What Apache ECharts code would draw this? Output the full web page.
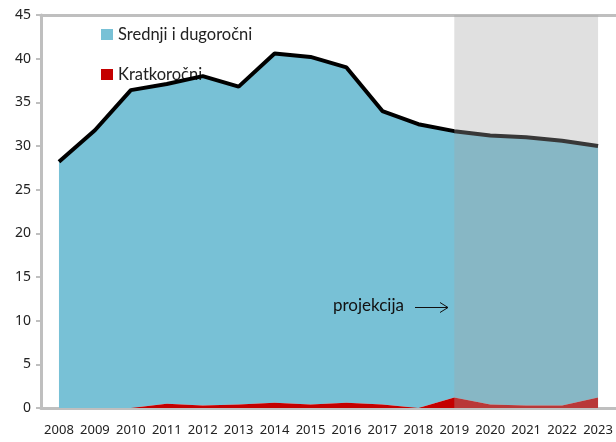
<!DOCTYPE html>
<html>
<head>
<meta charset="utf-8">
<script src="https://cdn.jsdelivr.net/npm/echarts@6/dist/echarts.min.js"></script>
<style>
  html, body { margin: 0; padding: 0; background: #fff; }
  #chart { width: 616px; height: 442px; }
</style>
</head>
<body>
<div id="chart"></div>
<script>
// godine
const years = ['2008', '2009', '2010', '2011', '2012', '2013', '2014', '2015',
  '2016', '2017', '2018', '2019', '2020', '2021', '2022', '2023'];
// srednji i dugoročni dug
const longTerm = [28.2, 31.8, 36.4, 36.6, 37.7, 36.4, 40.0, 39.8, 38.4, 33.6, 32.5, 30.5, 30.8, 30.7, 30.3, 28.8];
// kratkoročni dug
const shortTerm = [0, 0, 0, 0.5, 0.3, 0.4, 0.6, 0.4, 0.6, 0.4, 0, 1.2, 0.4, 0.3, 0.3, 1.2];
// ukupno (crna linija)
const total = [28.2, 31.8, 36.4, 37.1, 38.0, 36.8, 40.6, 40.2, 39.0, 34.0, 32.5, 31.7, 31.2, 31.0, 30.6, 30.0];
// y osi oznake
const yTicks = [0, 5, 10, 15, 20, 25, 30, 35, 40, 45];
const projStart = '2019';
const projEnd = '2023';

const chart = echarts.init(document.getElementById('chart'));
const font = 'Noto Sans';
const textFont = 'Lato';
const axisGrey = '#BFBFBF';

const option = {
  animation: false,
  textStyle: { fontFamily: font },
  grid: { left: 41, top: 15, width: 577, bottom: 34 },
  legend: {
    orient: 'vertical',
    left: 101,
    top: 26,
    padding: 0,
    itemWidth: 12,
    itemHeight: 11,
    itemGap: 23,
    icon: 'rect',
    textStyle: { fontSize: 16.5, color: '#222', fontFamily: textFont },
    data: ['Srednji i dugoročni', 'Kratkoročni']
  },
  xAxis: [{
    type: 'category',
    data: years,
    boundaryGap: true,
    axisLine: { lineStyle: { color: axisGrey, width: 3 } },
    axisTick: { alignWithLabel: true, interval: 0, length: 5, lineStyle: { color: axisGrey, width: 2 } },
    axisLabel: { interval: 0, fontSize: 13, color: '#222', margin: 16 },
    splitLine: { show: false }
  }, {
    type: 'category',
    data: years,
    position: 'top',
    axisLine: { lineStyle: { color: axisGrey, width: 3 } },
    axisTick: { show: false },
    axisLabel: { show: false }
  }],
  yAxis: {
    type: 'value',
    min: yTicks[0],
    max: yTicks[yTicks.length - 1],
    interval: 5,
    axisLine: { show: true, lineStyle: { color: axisGrey, width: 3 } },
    axisTick: { show: true, length: 5, lineStyle: { color: axisGrey, width: 2 } },
    axisLabel: { fontSize: 14, color: '#222', margin: 10 },
    splitLine: { show: false }
  },
  series: [
    {
      name: 'Kratkoročni',
      type: 'line',
      stack: 'dug',
      data: shortTerm,
      showSymbol: false,
      lineStyle: { width: 0 },
      itemStyle: { color: '#C40000' },
      areaStyle: { color: '#C40000', opacity: 1 },
      z: 3
    },
    {
      name: 'Srednji i dugoročni',
      type: 'line',
      stack: 'dug',
      data: longTerm,
      showSymbol: false,
      lineStyle: { width: 0 },
      itemStyle: { color: '#78C1D6' },
      areaStyle: { color: '#78C1D6', opacity: 1 },
      z: 2
    },
    {
      name: 'Ukupno',
      type: 'line',
      data: total,
      showSymbol: false,
      lineStyle: { color: '#000', width: 4 },
      itemStyle: { color: '#000' },
      z: 4
    },
    {
      name: 'projekcija',
      type: 'line',
      data: [],
      z: 10,
      silent: true,
      markArea: {
        z: 10,
        silent: true,
        itemStyle: { color: 'rgba(163,163,163,0.34)' },
        data: [[{ xAxis: projStart }, { xAxis: projEnd }]]
      }
    }
  ],
  graphic: [
    {
      type: 'text',
      z: 20,
      x: 333,
      y: 306,
      style: { text: 'projekcija', fontSize: 17, fill: '#111', fontFamily: textFont, verticalAlign: 'middle' }
    },
    {
      type: 'line',
      z: 20,
      shape: { x1: 415, y1: 307.5, x2: 448, y2: 307.5 },
      style: { stroke: '#111', lineWidth: 1 }
    },
    {
      type: 'polyline',
      z: 20,
      shape: { points: [[440, 302.5], [448, 307.5], [440, 312.5]] },
      style: { stroke: '#111', lineWidth: 1, fill: null }
    }
  ]
};

chart.setOption(option);
</script>
</body>
</html>
